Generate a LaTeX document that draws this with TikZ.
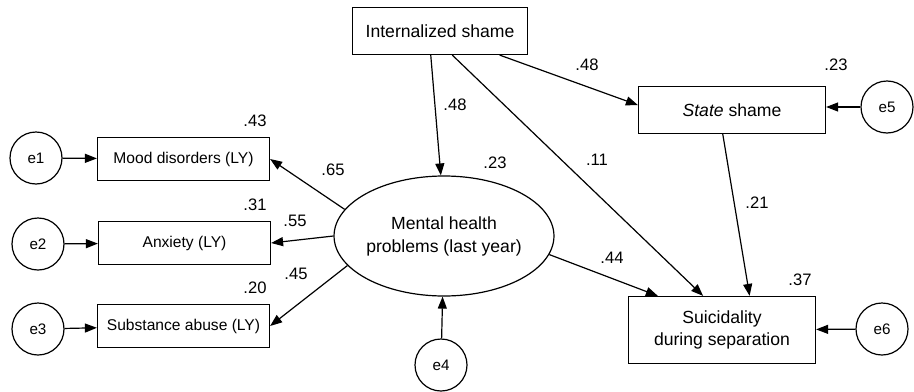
\documentclass[tikz,border=0pt]{standalone}
\usepackage{fontspec}
\setmainfont{Liberation Sans}
\usetikzlibrary{arrows.meta,shapes.geometric}

\begin{document}
\begin{tikzpicture}[x=0.5pt,y=-0.5pt]
	\tikzstyle{box}=[draw,line width=0.6pt,inner sep=0pt,align=center,font=\fontsize{8.8}{11}\selectfont]
	\tikzstyle{smallbox}=[box,minimum width=86pt,minimum height=21.5pt,font=\fontsize{7.8}{9.5}\selectfont]
	\tikzstyle{err}=[draw,circle,line width=0.6pt,minimum size=26pt,inner sep=0pt,font=\fontsize{7.6}{9}\selectfont]
	\tikzstyle{coef}=[inner sep=0pt,font=\fontsize{8.3}{10}\selectfont]
	\tikzstyle{arr}=[line width=0.6pt,-{Triangle[length=6pt,width=4.5pt]}]
	\useasboundingbox (0,0) rectangle (914,391);
	\path (440,31) node[box,minimum width=87.5pt,minimum height=23.5pt] (intsh) {Internalized shame};
	\path (732,110) node[box,minimum width=93.5pt,minimum height=23.5pt] (state) {\textit{State} shame};
	\path (722,330) node[box,minimum width=93.5pt,minimum height=33.5pt] (suic) {Suicidality\\during separation};
	\path (444,236) node[box,ellipse,minimum width=92.5pt,minimum height=60pt,font=\fontsize{8.8}{11.5}\selectfont] (mh) {Mental health\\problems (last year)};
	\path (183.5,159) node[smallbox] (mood) {Mood disorders (LY)};
	\path (184.5,243) node[smallbox] (anx) {Anxiety (LY)};
	\path (183.5,326) node[smallbox] (subs) {Substance abuse (LY)};
	\path (36,158) node[err] (e1) {e1};
	\path (38,244) node[err] (e2) {e2};
	\path (38,329) node[err] (e3) {e3};
	\path (441,365) node[err] (e4) {e4};
	\path (887,107) node[err] (e5) {e5};
	\path (882,329) node[err] (e6) {e6};
	\draw[arr] (e1) -- (mood);
	\draw[arr] (e2) -- (anx);
	\draw[arr] (e3) -- (subs);
	\draw[arr] (e4) -- (mh);
	\draw[arr] (e5) -- (state.east |- e5);
	\draw[arr] (e6) -- (suic);
	\draw[arr] (mh.165) -- (mood.east);
	\draw[arr] (mh.west) -- (anx.east);
	\draw[arr] (mh.-163) -- (subs.east);
	\draw[arr] (intsh.249) -- (mh.93);
	\draw[arr] (intsh.-22) -- (state.177);
	\draw[arr] (intsh.-63) -- (suic.119);
	\draw[arr] (state.-111) -- (suic.51);
	\draw[arr] (mh.-10) -- (suic.152);
	\path (255,121) node[coef] (c0) {.43};
	\path (255,205) node[coef] (c1) {.31};
	\path (255,288) node[coef] (c2) {.20};
	\path (333,170) node[coef] (c3) {.65};
	\path (295,221) node[coef] (c4) {.55};
	\path (296,274) node[coef] (c5) {.45};
	\path (455,105) node[coef] (c6) {.48};
	\path (495,163) node[coef] (c7) {.23};
	\path (587,65) node[coef] (c8) {.48};
	\path (597,160) node[coef] (c9) {.11};
	\path (836,65) node[coef] (c10) {.23};
	\path (757,203) node[coef] (c11) {.21};
	\path (612,258) node[coef] (c12) {.44};
	\path (800,280) node[coef] (c13) {.37};
\end{tikzpicture}
\end{document}
